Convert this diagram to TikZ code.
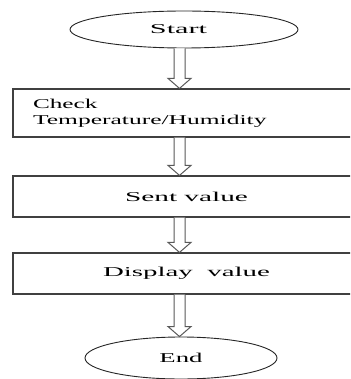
\documentclass[tikz,border=0pt]{standalone}
\usepackage{fontspec}
\setmainfont{Liberation Serif}
\usetikzlibrary{shapes.geometric,calc}
\newcommand\sx[2]{\scalebox{#1}[1]{#2}}
\newcommand\blockarrow[2]{%
  \draw[blockarr] let \p1=(#1), \p2=(#2) in
    (\x1-5.5pt,\y1) -- (\x1-5.5pt,\y2+10pt) -- (\x1-11.5pt,\y2+10pt) -- (\x2,\y2)
    -- (\x1+11.5pt,\y2+10pt) -- (\x1+5.5pt,\y2+10pt) -- (\x1+5.5pt,\y1);}
\tikzset{
  txt/.style={font=\fontsize{13.5}{16}\selectfont},
  term/.style={ellipse, draw=black!85, line width=0.9pt, inner sep=0pt, txt},
  procbox/.style={rectangle, draw=black!75, line width=1.2pt, minimum width=347pt, inner sep=0pt, txt},
  blockarr/.style={draw=black!65, line width=1pt, fill=white, line join=miter},
}
\begin{document}
\begin{tikzpicture}[x=1pt,y=-1pt]
\useasboundingbox (0,0) rectangle (350,379);
\clip (0,0) rectangle (350,379);
\fill[white] (0,0) rectangle (350,379);
\node[term, minimum width=228pt, minimum height=37pt] (start) at (184,29.5) {\hspace*{-11pt}\sx{2.24}{Start}};
\node[procbox, minimum height=48pt, text width=307pt, inner xsep=20pt, align=left] (check) at (186.5,113)
  {\sx{1.87}{Check}\\\sx{1.89}{Temperature/Humidity}};
\node[procbox, minimum height=41pt] (sent) at (186.5,196.5) {\sx{2.17}{Sent value}};
\node[procbox, minimum height=41pt] (disp) at (186.5,273.5) {\sx{2.14}{Display~~value}};
\node[term, minimum width=192pt, minimum height=42pt] (end) at (181,358) {\sx{1.98}{End}};
\coordinate (axis) at (179.5,0);
\blockarrow{start.south -| axis}{check.north -| axis}
\blockarrow{check.south -| axis}{sent.north -| axis}
\blockarrow{sent.south -| axis}{disp.north -| axis}
\blockarrow{disp.south -| axis}{end.north -| axis}
\end{tikzpicture}
\end{document}
